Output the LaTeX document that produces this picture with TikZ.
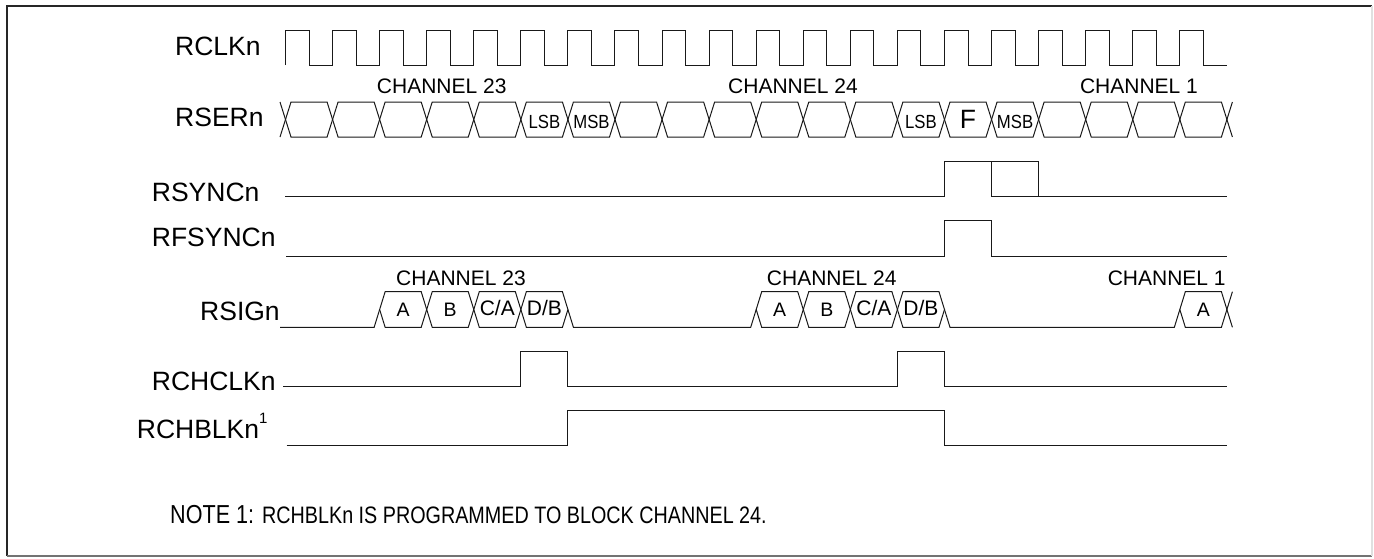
\documentclass[tikz,border=0pt]{standalone}
\usepackage{fontspec}
\setmainfont{Liberation Sans}
\newfontfamily\narrowfont[FakeStretch=0.83]{Liberation Sans}
\newfontfamily\semifont[FakeStretch=0.88]{Liberation Sans}
\def\xorg{285.5}
\def\Tp{47.07}
\def\hw{5.5}
\newcommand\hexseg[3]{%
  \pgfmathsetmacro\hxa{\xorg+#1*\Tp}%
  \pgfmathsetmacro\hxb{\hxa+\Tp}%
  \pgfmathsetmacro\hmid{(#2+#3)/2}%
  \draw[sig] (\hxa,\hmid) -- ({\hxa+\hw},#2) -- ({\hxb-\hw},#2) -- (\hxb,\hmid)
    -- ({\hxb-\hw},#3) -- ({\hxa+\hw},#3) -- cycle;}
\newcommand\segtext[5]{% seg, baseline, font, name, text
  \pgfmathsetmacro\hxc{\xorg+(#1+0.5)*\Tp}%
  \node[anchor=base,inner sep=0pt,font=#3] (#4) at (\hxc,#2) {#5};}
\begin{document}
\begin{tikzpicture}[x=1pt,y=-1pt,
  sig/.style={line width=1pt, black!90, line join=miter},
  lbl/.style={anchor=base west, inner sep=0pt, font=\fontsize{26.5}{30}\selectfont},
  chan/.style={anchor=base, inner sep=0pt, font=\fontsize{21}{24}\selectfont}]
\useasboundingbox (0,0) rectangle (1374,558);
% border
\draw[line width=2pt,black!85] (7,556) -- (7,6) -- (1372,6);
\draw[line width=1.5pt,black!55] (7,556) -- (1372,556);
\draw[line width=1.2pt,black!12] (1372,6) -- (1372,556);

% signal names
\node[lbl] (nRCLK)   at (175,55)    {RCLKn};
\node[lbl] (nRSER)   at (175,126.7) {RSERn};
\node[lbl] (nRSYNC)  at (151.7,201.5) {RSYNCn};
\node[lbl] (nRFSYNC) at (151.7,246.7) {RFSYNCn};
\node[lbl] (nRSIG)   at (200,320)   {RSIGn};
\node[lbl] (nRCHCLK) at (151.7,390.7) {RCHCLKn};
\node[lbl] (nRCHBLK) at (136.7,438.3) {RCHBLKn\raisebox{0.55em}{\fontsize{15}{16}\selectfont 1}};

% RCLKn
\draw[sig] (\xorg,65) \foreach \k in {0,...,19}{
  -- ({\xorg+\k*\Tp},30.7) -- ({\xorg+(\k+0.5)*\Tp},30.7)
  -- ({\xorg+(\k+0.5)*\Tp},65) -- ({\xorg+(\k+1)*\Tp},65)};

% RSERn bus
\foreach \k in {0,...,19}{\hexseg{\k}{102}{137}}
\draw[sig] ({\xorg-\hw},102) -- (\xorg,119.5) -- ({\xorg-\hw},137);
\draw[sig] ({\xorg+20*\Tp+\hw},102) -- ({\xorg+20*\Tp},119.5) -- ({\xorg+20*\Tp+\hw},137);
\segtext{5}{128.3}{\semifont\fontsize{19}{22}\selectfont}{s1}{LSB}
\segtext{6}{128.3}{\semifont\fontsize{19}{22}\selectfont}{s2}{MSB}
\segtext{13}{128.3}{\semifont\fontsize{19}{22}\selectfont}{s3}{LSB}
\segtext{14}{128.3}{\fontsize{26.5}{30}\selectfont}{s4}{F}
\segtext{15}{128.3}{\semifont\fontsize{19}{22}\selectfont}{s5}{MSB}
\node[chan] (c23a) at (441.7,93.3) {CHANNEL 23};
\node[chan] (c24a) at (793,93.3) {CHANNEL 24};
\node[chan] (c1a)  at (1139,93.3) {CHANNEL 1};

% RSYNCn
\draw[sig] (285,196.7) -- ({\xorg+14*\Tp},196.7) -- ({\xorg+14*\Tp},161)
  -- ({\xorg+16*\Tp},161) -- ({\xorg+16*\Tp},196.7) -- (1227,196.7);
\draw[sig] ({\xorg+15*\Tp},161) -- ({\xorg+15*\Tp},196.7) -- ({\xorg+16*\Tp},196.7);

% RFSYNCn
\draw[sig] (286,256) -- ({\xorg+14*\Tp},256) -- ({\xorg+14*\Tp},220.3)
  -- ({\xorg+15*\Tp},220.3) -- ({\xorg+15*\Tp},256) -- (1227,256);

% RSIGn
\draw[sig] (280,327.3) -- ({\xorg+2*\Tp-\hw},327.3) -- ({\xorg+2*\Tp},309.5);
\draw[sig] ({\xorg+6*\Tp},309.5) -- ({\xorg+6*\Tp+\hw},327.3) -- ({\xorg+10*\Tp-\hw},327.3) -- ({\xorg+10*\Tp},309.5);
\draw[sig] ({\xorg+14*\Tp},309.5) -- ({\xorg+14*\Tp+\hw},327.3) -- ({\xorg+19*\Tp-\hw},327.3) -- ({\xorg+19*\Tp},309.5);
\draw[sig] ({\xorg+20*\Tp+\hw},291.7) -- ({\xorg+20*\Tp},309.5) -- ({\xorg+20*\Tp+\hw},327.3);
\foreach \k in {2,3,4,5,10,11,12,13,19}{\hexseg{\k}{291.7}{327.3}}
\segtext{2}{316.5}{\fontsize{19.5}{22}\selectfont}{r1}{A}
\segtext{3}{316.5}{\fontsize{19.5}{22}\selectfont}{r2}{B}
\segtext{4}{315.5}{\fontsize{21}{24}\selectfont}{r3}{C/A}
\segtext{5}{315.5}{\fontsize{21}{24}\selectfont}{r4}{D/B}
\segtext{10}{316.5}{\fontsize{19.5}{22}\selectfont}{r5}{A}
\segtext{11}{316.5}{\fontsize{19.5}{22}\selectfont}{r6}{B}
\segtext{12}{315.5}{\fontsize{21}{24}\selectfont}{r7}{C/A}
\segtext{13}{315.5}{\fontsize{21}{24}\selectfont}{r8}{D/B}
\segtext{19}{316.5}{\fontsize{19.5}{22}\selectfont}{r9}{A}
\node[chan] (c23b) at (461,285) {CHANNEL 23};
\node[chan] (c24b) at (831.7,285) {CHANNEL 24};
\node[chan] (c1b)  at (1166.7,285) {CHANNEL 1};

% RCHCLKn
\draw[sig] (283,386) -- ({\xorg+5*\Tp},386) -- ({\xorg+5*\Tp},351) -- ({\xorg+6*\Tp},351)
  -- ({\xorg+6*\Tp},386) -- ({\xorg+13*\Tp},386) -- ({\xorg+13*\Tp},351)
  -- ({\xorg+14*\Tp},351) -- ({\xorg+14*\Tp},386) -- (1227,386);

% RCHBLKn
\draw[sig] (286.7,445) -- ({\xorg+6*\Tp},445) -- ({\xorg+6*\Tp},410)
  -- ({\xorg+14*\Tp},410) -- ({\xorg+14*\Tp},445) -- (1227,445);

% note
\node[anchor=base west,inner sep=0pt] (note) at (170,523)
  {\narrowfont\fontsize{26}{30}\selectfont NOTE 1: \fontsize{23.8}{28}\selectfont RCHBLKn IS PROGRAMMED TO BLOCK CHANNEL 24.};
\end{tikzpicture}
\end{document}
